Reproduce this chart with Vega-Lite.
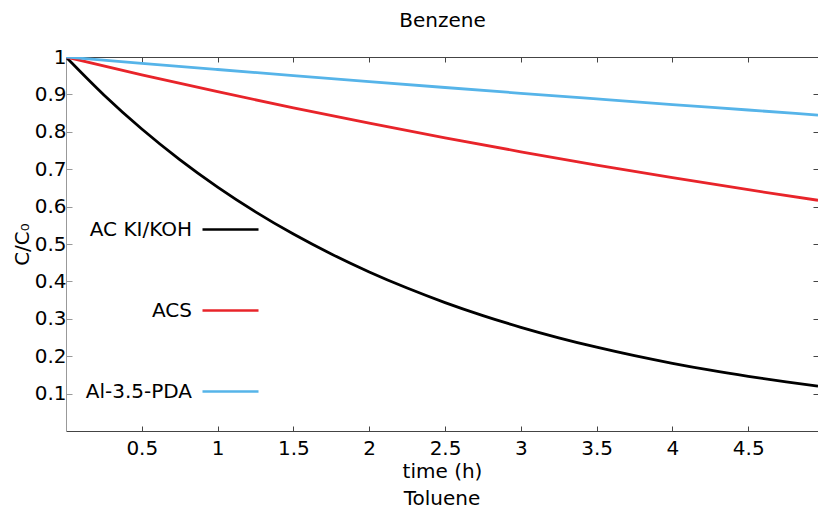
{
  "$schema": "https://vega.github.io/schema/vega-lite/v6.json",
  "autosize": {"type": "none"},
  "padding": {"left": 66, "top": 57, "right": 0, "bottom": 89},
  "width": 752,
  "height": 374,
  "background": "white",
  "title": {"text": "Toluene", "orient": "bottom", "font": "DejaVu Sans", "fontSize": 20, "fontWeight": "normal", "color": "#000", "offset": 8, "anchor": "middle"},
  "config": {
    "view": {"stroke": null},
    "font": "DejaVu Sans",
    "axis": {"grid": false, "labelFont": "DejaVu Sans", "titleFont": "DejaVu Sans", "labelFontSize": 20, "titleFontSize": 20, "labelColor": "#000", "titleColor": "#000", "titleFontWeight": "normal"}
  },
  "data": {"values": [
    {"t": 0, "c": 1, "s": "AC KI/KOH"},
    {"t": 0.25, "c": 0.8986, "s": "AC KI/KOH"},
    {"t": 0.5, "c": 0.8075, "s": "AC KI/KOH"},
    {"t": 0.75, "c": 0.7257, "s": "AC KI/KOH"},
    {"t": 1, "c": 0.6522, "s": "AC KI/KOH"},
    {"t": 1.25, "c": 0.586, "s": "AC KI/KOH"},
    {"t": 1.5, "c": 0.5266, "s": "AC KI/KOH"},
    {"t": 1.75, "c": 0.4733, "s": "AC KI/KOH"},
    {"t": 2, "c": 0.4253, "s": "AC KI/KOH"},
    {"t": 2.25, "c": 0.3822, "s": "AC KI/KOH"},
    {"t": 2.5, "c": 0.3434, "s": "AC KI/KOH"},
    {"t": 2.75, "c": 0.3086, "s": "AC KI/KOH"},
    {"t": 3, "c": 0.2773, "s": "AC KI/KOH"},
    {"t": 3.25, "c": 0.2492, "s": "AC KI/KOH"},
    {"t": 3.5, "c": 0.224, "s": "AC KI/KOH"},
    {"t": 3.75, "c": 0.2013, "s": "AC KI/KOH"},
    {"t": 4, "c": 0.1809, "s": "AC KI/KOH"},
    {"t": 4.25, "c": 0.1625, "s": "AC KI/KOH"},
    {"t": 4.5, "c": 0.1461, "s": "AC KI/KOH"},
    {"t": 4.75, "c": 0.1313, "s": "AC KI/KOH"},
    {"t": 4.96, "c": 0.12, "s": "AC KI/KOH"},
    {"t": 0, "c": 1, "s": "ACS"},
    {"t": 0.5, "c": 0.9525, "s": "ACS"},
    {"t": 1, "c": 0.9072, "s": "ACS"},
    {"t": 1.5, "c": 0.8641, "s": "ACS"},
    {"t": 2, "c": 0.823, "s": "ACS"},
    {"t": 2.5, "c": 0.7839, "s": "ACS"},
    {"t": 3, "c": 0.7466, "s": "ACS"},
    {"t": 3.5, "c": 0.7111, "s": "ACS"},
    {"t": 4, "c": 0.6773, "s": "ACS"},
    {"t": 4.5, "c": 0.6451, "s": "ACS"},
    {"t": 4.96, "c": 0.617, "s": "ACS"},
    {"t": 0, "c": 1, "s": "Al-3.5-PDA"},
    {"t": 0.5, "c": 0.9831, "s": "Al-3.5-PDA"},
    {"t": 1, "c": 0.9666, "s": "Al-3.5-PDA"},
    {"t": 1.5, "c": 0.9503, "s": "Al-3.5-PDA"},
    {"t": 2, "c": 0.9343, "s": "Al-3.5-PDA"},
    {"t": 2.5, "c": 0.9185, "s": "Al-3.5-PDA"},
    {"t": 3, "c": 0.903, "s": "Al-3.5-PDA"},
    {"t": 3.5, "c": 0.8878, "s": "Al-3.5-PDA"},
    {"t": 4, "c": 0.8728, "s": "Al-3.5-PDA"},
    {"t": 4.5, "c": 0.8583, "s": "Al-3.5-PDA"},
    {"t": 4.96, "c": 0.8448, "s": "Al-3.5-PDA"}
  ]},
  "layer": [
    {
      "mark": {"type": "line", "strokeWidth": 0, "opacity": 0},
      "encoding": {
        "x": {"field": "t", "type": "quantitative", "scale": {"domain": [0, 4.96], "nice": false, "zero": false},
          "axis": {"orient": "top", "labels": false, "values": [0.5, 1, 1.5, 2, 2.5, 3, 3.5, 4, 4.5], "tickSize": -5, "tickColor": "#444", "domainColor": "#444", "title": "Benzene", "titlePadding": 26}},
        "y": {"field": "c", "type": "quantitative", "scale": {"domain": [0, 1], "nice": false},
          "axis": {"orient": "right", "labels": false, "values": [0.1, 0.2, 0.3, 0.4, 0.5, 0.6, 0.7, 0.8, 0.9, 1], "tickSize": -5, "tickColor": "#444", "domainColor": "#444", "title": null}}
      }
    },
    {
      "mark": {"type": "line", "strokeWidth": 2.8, "interpolate": "monotone", "clip": true},
      "encoding": {
        "x": {"field": "t", "type": "quantitative",
          "axis": {"orient": "bottom", "values": [0.5, 1, 1.5, 2, 2.5, 3, 3.5, 4, 4.5], "format": "~g", "tickSize": -5, "tickColor": "#444", "domainColor": "#444", "labelPadding": 12, "title": "time (h)", "titlePadding": 3}},
        "y": {"field": "c", "type": "quantitative",
          "axis": {"orient": "left", "values": [0.1, 0.2, 0.3, 0.4, 0.5, 0.6, 0.7, 0.8, 0.9, 1], "format": "~g", "tickSize": -6, "tickColor": "#999", "domainColor": "#999", "labelPadding": 6, "title": "C/C₀", "titlePadding": 2}},
        "color": {"field": "s", "type": "nominal",
          "scale": {"domain": ["AC KI/KOH", "ACS", "Al-3.5-PDA"], "range": ["#000000", "#e8242a", "#56b4e9"]},
          "legend": {"orient": "none", "legendX": 135, "legendY": 143, "title": null, "symbolType": "stroke", "symbolSize": 3136, "symbolStrokeWidth": 2.5, "labelFontSize": 20, "labelFont": "DejaVu Sans", "labelColor": "#000", "labelAlign": "right", "labelOffset": -68, "rowPadding": 41}}
      }
    }
  ],
  "resolve": {"axis": {"x": "independent", "y": "independent"}}
}
